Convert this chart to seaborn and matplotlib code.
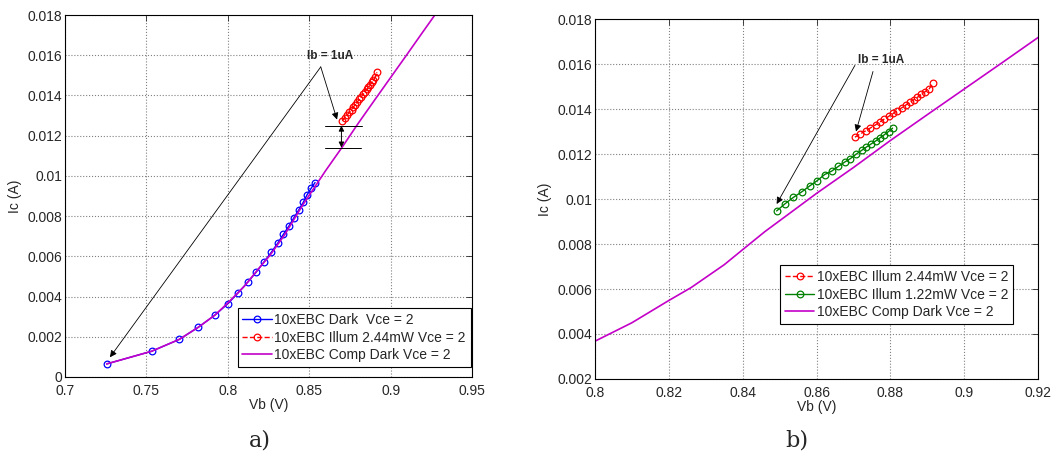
import matplotlib
matplotlib.use("Agg")
import matplotlib.pyplot as plt
import seaborn as sns

# ---- data ----
dark_vb = [0.7256, 0.7532, 0.7702, 0.7820, 0.7921, 0.8000, 0.8064, 0.8123, 0.8176, 0.8223,
           0.8268, 0.8307, 0.8342, 0.8377, 0.8407, 0.8436, 0.8463, 0.8487, 0.8514, 0.8536]
dark_ic = [0.00065, 0.00128, 0.00187, 0.00248, 0.00308, 0.00364, 0.00419, 0.00472, 0.00523, 0.00573,
           0.00621, 0.00666, 0.00710, 0.00753, 0.00793, 0.00831, 0.00868, 0.00906, 0.00941, 0.00967]

illum244_vb = [0.8704, 0.8719, 0.8733, 0.8746, 0.8760, 0.8771, 0.8783, 0.8796, 0.8808, 0.8819,
               0.8831, 0.8842, 0.8853, 0.8863, 0.8873, 0.8884, 0.8894, 0.8905, 0.8916]
illum244_ic = [0.01275, 0.01290, 0.01303, 0.01316, 0.01330, 0.01342, 0.01355, 0.01368, 0.01381, 0.01393,
               0.01406, 0.01418, 0.01430, 0.01441, 0.01452, 0.01465, 0.01477, 0.01490, 0.01515]

illum122_vb = [0.8492, 0.8514, 0.8537, 0.8560, 0.8583, 0.8602, 0.8622, 0.8641, 0.8659, 0.8676,
               0.8692, 0.8707, 0.8722, 0.8735, 0.8748, 0.8761, 0.8772, 0.8783, 0.8795, 0.8806]
illum122_ic = [0.00947, 0.00978, 0.01007, 0.01032, 0.01060, 0.01082, 0.01109, 0.01124, 0.01145, 0.01164,
               0.01180, 0.01199, 0.01216, 0.01231, 0.01245, 0.01259, 0.01272, 0.01285, 0.01300, 0.01315]

comp_vb = [0.7256, 0.7532, 0.7702, 0.7820, 0.7921, 0.8000, 0.8100, 0.8200, 0.8260, 0.8350,
           0.8400, 0.8460, 0.8526, 0.8600, 0.8700, 0.8800, 0.8900, 0.9000, 0.9100, 0.9200, 0.9300]
comp_ic = [0.00065, 0.00128, 0.00187, 0.00248, 0.00308, 0.00368, 0.00450, 0.00549, 0.00606, 0.00708,
           0.00775, 0.00855, 0.00935, 0.01025, 0.01140, 0.01260, 0.01375, 0.01489, 0.01603, 0.01718, 0.01832]

a_xticks = [0.7, 0.75, 0.8, 0.85, 0.9, 0.95]
a_xlabels = ["0.7", "0.75", "0.8", "0.85", "0.9", "0.95"]
a_yticks = [0, 0.002, 0.004, 0.006, 0.008, 0.01, 0.012, 0.014, 0.016, 0.018]
a_ylabels = ["0", "0.002", "0.004", "0.006", "0.008", "0.01", "0.012", "0.014", "0.016", "0.018"]
b_xticks = [0.8, 0.82, 0.84, 0.86, 0.88, 0.9, 0.92]
b_xlabels = ["0.8", "0.82", "0.84", "0.86", "0.88", "0.9", "0.92"]
b_yticks = [0.002, 0.004, 0.006, 0.008, 0.01, 0.012, 0.014, 0.016, 0.018]
b_ylabels = ["0.002", "0.004", "0.006", "0.008", "0.01", "0.012", "0.014", "0.016", "0.018"]

LBL_DARK = "10xEBC Dark  Vce = 2"
LBL_244 = "10xEBC Illum 2.44mW Vce = 2"
LBL_122 = "10xEBC Illum 1.22mW Vce = 2"
LBL_COMP = "10xEBC Comp Dark Vce = 2"

BLUE, RED, GREEN, MAG = "#0000ff", "#ff0000", "#008000", "#c400c8"

sns.set_style("whitegrid", {"grid.linestyle": ":", "grid.color": "#808080",
                            "axes.edgecolor": "black", "xtick.direction": "in",
                            "ytick.direction": "in"})
plt.rcParams["font.family"] = ["Liberation Sans", "DejaVu Sans"]


def style_axes(ax, xt, xl, yt, yl, xlim, ylim):
    ax.set_xlim(*xlim)
    ax.set_ylim(*ylim)
    ax.set_xticks(xt)
    ax.set_xticklabels(xl)
    ax.set_yticks(yt)
    ax.set_yticklabels(yl)
    ax.tick_params(labelsize=10, length=4, width=0.6, top=True, right=True, pad=2)
    ax.tick_params(axis="x", pad=5)
    for s in ax.spines.values():
        s.set_linewidth(0.8)
        s.set_color("black")
    ax.grid(True, linestyle=":", color="#808080", linewidth=0.8)
    ax.set_xlabel("Vb (V)", fontsize=10, labelpad=0)
    ax.set_ylabel("Ic (A)", fontsize=10, labelpad=4)


def circles(x, y, color, label, ax, ls="-", ms=4.8):
    sns.lineplot(x=x, y=y, ax=ax, color=color, linestyle=ls, linewidth=1.0, marker="o",
                 markersize=ms, markerfacecolor="none", markeredgecolor=color,
                 markeredgewidth=0.9, sort=False, label=label, errorbar=None)


ARROW = dict(arrowstyle="-|>", color="black", lw=0.6, mutation_scale=10, shrinkA=0, shrinkB=0)
LEG = dict(fontsize=10, fancybox=False, edgecolor="black", framealpha=1, handlelength=2.1,
           handletextpad=0.2, borderpad=0.35, labelspacing=0.25, borderaxespad=0)

fig = plt.figure(figsize=(10.64, 4.62), dpi=100)
ax1 = fig.add_axes([0.0611, 0.184, 0.3825, 0.7835])
ax2 = fig.add_axes([0.5592, 0.1797, 0.4164, 0.779])

# ---- panel a ----
circles(dark_vb, dark_ic, BLUE, LBL_DARK, ax1)
circles(illum244_vb, illum244_ic, RED, LBL_244, ax1, ls="--")
sns.lineplot(x=comp_vb, y=comp_ic, ax=ax1, color=MAG, linewidth=1.2, sort=False,
             label=LBL_COMP, errorbar=None)
style_axes(ax1, a_xticks, a_xlabels, a_yticks, a_ylabels, (0.7, 0.95), (0, 0.018))

ax1.text(0.8626, 0.01595, "Ib = 1uA", fontsize=8.5, fontweight="bold", ha="center", va="center")
ax1.annotate("", xy=(0.7276, 0.00098), xytext=(0.8571, 0.01542), arrowprops=ARROW)
ax1.annotate("", xy=(0.8671, 0.0128), xytext=(0.8571, 0.01542), arrowprops=ARROW)
ax1.plot([0.8596, 0.8825], [0.0125, 0.0125], color="black", lw=0.7)
ax1.plot([0.8596, 0.8817], [0.01141, 0.01141], color="black", lw=0.7)
ax1.annotate("", xy=(0.8698, 0.01141), xytext=(0.8698, 0.0125),
             arrowprops=dict(arrowstyle="<|-|>", color="black", lw=0.7, mutation_scale=8,
                             shrinkA=0, shrinkB=0))

leg1 = ax1.legend(loc="lower right", bbox_to_anchor=(0.997, 0.028), **LEG)
leg1.get_frame().set_linewidth(0.8)

# ---- panel b ----
circles(illum244_vb, illum244_ic, RED, LBL_244, ax2, ls="--")
circles(illum122_vb, illum122_ic, GREEN, LBL_122, ax2)
sns.lineplot(x=comp_vb, y=comp_ic, ax=ax2, color=MAG, linewidth=1.2, sort=False,
             label=LBL_COMP, errorbar=None)
style_axes(ax2, b_xticks, b_xlabels, b_yticks, b_ylabels, (0.8, 0.92), (0.002, 0.018))

ax2.text(0.8774, 0.01619, "Ib = 1uA", fontsize=8.5, fontweight="bold", ha="center", va="center")
ax2.annotate("", xy=(0.8492, 0.00978), xytext=(0.8704, 0.01594), arrowprops=ARROW)
ax2.annotate("", xy=(0.8707, 0.0130), xytext=(0.8753, 0.01567), arrowprops=ARROW)

leg2 = ax2.legend(loc="lower right", bbox_to_anchor=(0.944, 0.153), **LEG)
leg2.get_frame().set_linewidth(0.8)

fig.text(0.2444, 0.047, "a)", fontsize=16, ha="center", va="center", family="DejaVu Serif")
fig.text(0.749, 0.047, "b)", fontsize=16, ha="center", va="center", family="DejaVu Serif")

fig.savefig("out.png", dpi=100)
